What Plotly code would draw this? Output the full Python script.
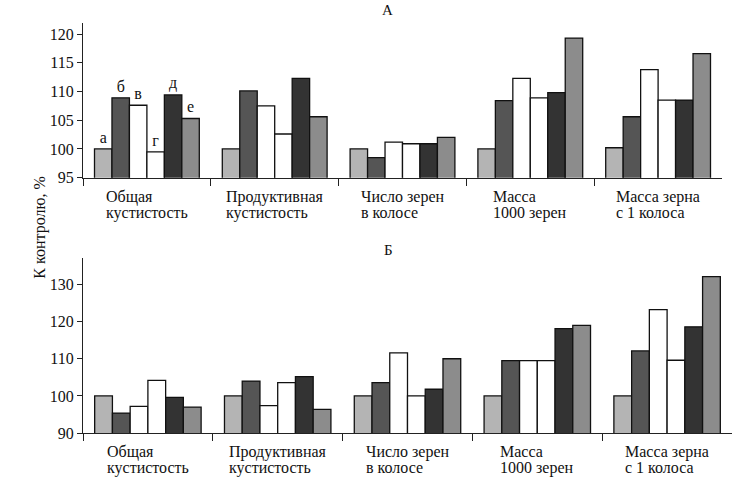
import plotly.graph_objects as go

categories = ["Общая<br>кустистость", "Продуктивная<br>кустистость", "Число зерен<br>в колосе",
              "Масса<br>1000 зерен", "Масса зерна<br>с 1 колоса"]
series_names = ["а", "б", "в", "г", "д", "е"]
series_colors = ["#b4b4b4", "#555555", "#ffffff", "#ffffff", "#333333", "#8c8c8c"]

# Panel А
a_values = [
    [100.0, 100.0, 100.0, 100.0, 100.2],   # а
    [108.9, 110.1, 98.5, 108.4, 105.6],    # б
    [107.6, 107.5, 101.2, 112.3, 113.8],   # в
    [99.5, 102.6, 100.9, 108.9, 108.5],    # г
    [109.4, 112.3, 100.9, 109.8, 108.5],   # д
    [105.3, 105.6, 102.0, 119.3, 116.6],   # е
]
# Panel Б
b_values = [
    [100.0, 100.0, 100.0, 100.0, 100.0],   # а
    [95.4, 104.0, 103.6, 109.5, 112.1],    # б
    [97.2, 97.4, 111.6, 109.5, 123.2],     # в
    [104.2, 103.6, 100.0, 109.5, 109.6],   # г
    [99.6, 105.2, 101.8, 118.1, 118.6],    # д
    [97.0, 96.4, 110.0, 119.0, 132.1],     # е
]
a_ticks = [95, 100, 105, 110, 115, 120]
b_ticks = [90, 100, 110, 120, 130]
panel_titles = ["А", "Б"]
y_title = "К контролю, %"

FONT = "Liberation Serif"
W, H = 732, 485
ML = 83
xpos = list(range(len(categories)))

fig = go.Figure()
for i, name in enumerate(series_names):
    fig.add_trace(go.Bar(
        x=xpos, y=a_values[i], name=name, marker_color=series_colors[i],
        marker_line_color="#111111", marker_line_width=1.3,
        text=[name] + [""] * (len(categories) - 1), textposition="outside",
        textfont=dict(family=FONT, size=16, color="#111111"), cliponaxis=False,
        constraintext="none",
        xaxis="x", yaxis="y", showlegend=False))
for i, name in enumerate(series_names):
    fig.add_trace(go.Bar(
        x=xpos, y=b_values[i], name=name, marker_color=series_colors[i],
        marker_line_color="#111111", marker_line_width=1.3,
        xaxis="x2", yaxis="y2", showlegend=False))

def px_y(py):
    return 1 - py / H

def px_x(px):
    return (px - ML) / (W - ML)

axis_common = dict(showgrid=False, zeroline=False, showline=True, linecolor="#222222",
                   linewidth=1.3, ticks="outside", tickcolor="#222222", tickwidth=1.3,
                   tickfont=dict(family=FONT, size=16, color="#111111"))

fig.update_layout(
    width=W, height=H, margin=dict(l=ML, r=0, t=0, b=0),
    paper_bgcolor="white", plot_bgcolor="white",
    barmode="group", bargap=0.18, bargroupgap=0,
    xaxis=dict(axis_common, domain=[0, px_x(722)], range=[-0.5, 4.5],
               tickvals=[-0.5, 0.5, 1.5, 2.5, 3.5], showticklabels=False, ticklen=7,
               anchor="y"),
    yaxis=dict(axis_common, domain=[px_y(181), px_y(23)], range=[95, 122],
               tickvals=a_ticks, ticklen=5, anchor="x"),
    xaxis2=dict(axis_common, domain=[0, 1], range=[-0.5, 4.5],
                tickvals=[-0.5, 0.5, 1.5, 2.5, 3.5], showticklabels=False, ticklen=7,
                anchor="y2"),
    yaxis2=dict(axis_common, domain=[px_y(441.3), px_y(263.3)], range=[90, 137],
                tickvals=b_ticks, ticklen=5, anchor="x2"),
)

def big(text, size=16):
    return "<br>".join('<span style="font-size:%dpx">%s</span>' % (size, s) for s in text.split("<br>"))

ann = []
for i, cat in enumerate(categories):
    for xr, ytop in (("x", 190), ("x2", 449)):
        ann.append(dict(x=i, xref=xr, y=px_y(ytop), yref="paper", text=big(cat), showarrow=False,
                        xanchor="center", yanchor="top", align="left",
                        font=dict(family=FONT, size=12.4, color="#111111")))
ann.append(dict(x=px_x(387), xref="paper", y=px_y(10), yref="paper", text=panel_titles[0],
                showarrow=False, xanchor="center", yanchor="middle",
                font=dict(family=FONT, size=15, color="#111111")))
ann.append(dict(x=px_x(388), xref="paper", y=px_y(255), yref="paper", text=panel_titles[1],
                showarrow=False, xanchor="center", yanchor="middle",
                font=dict(family=FONT, size=15, color="#111111")))
ann.append(dict(x=px_x(40), xref="paper", y=px_y(232), yref="paper", text=y_title,
                textangle=-90, showarrow=False, xanchor="center", yanchor="middle",
                font=dict(family=FONT, size=16, color="#111111")))
fig.update_layout(annotations=ann)

fig.write_html("out.html", post_script="document.body.style.margin='0px';",
               config={"displayModeBar": False})
